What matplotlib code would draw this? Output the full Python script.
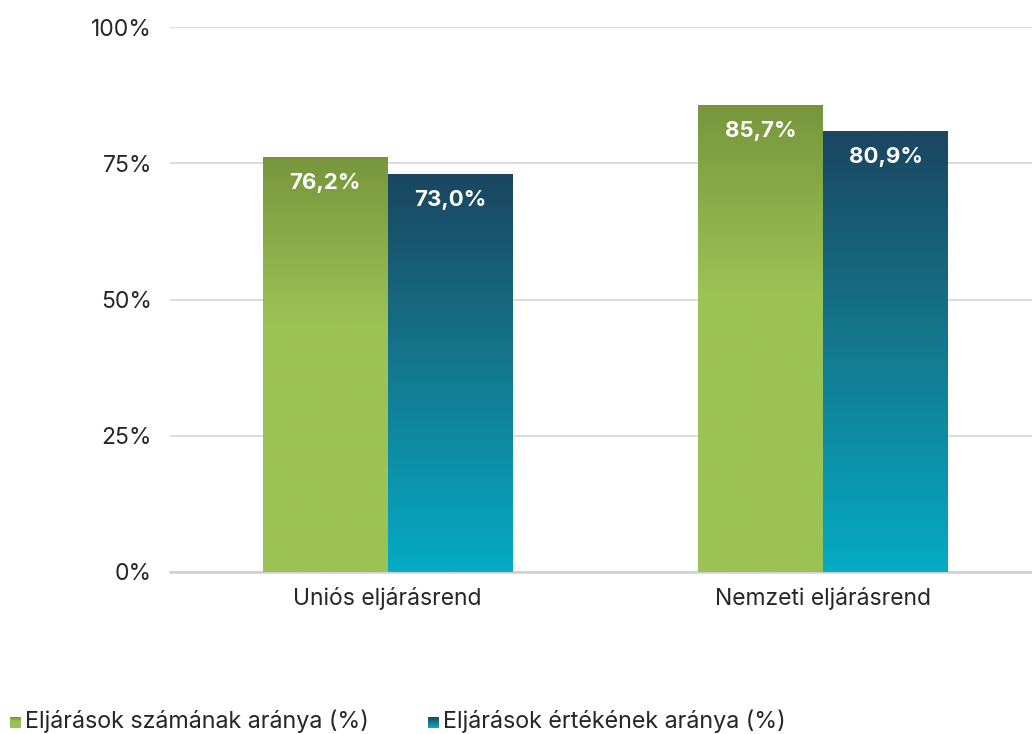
import numpy as np
import matplotlib
matplotlib.use("Agg")
import matplotlib.pyplot as plt
from matplotlib.colors import LinearSegmentedColormap

categories = ["Uniós eljárásrend", "Nemzeti eljárásrend"]
series_names = ["Eljárások számának aránya (%)", "Eljárások értékének aránya (%)"]
szam = [76.2, 85.7]
ertek = [73.0, 80.9]
yticks = [0, 25, 50, 75, 100]
ytick_labels = ["0%", "25%", "50%", "75%", "100%"]

plt.rcParams['font.family'] = ['Inter', 'DejaVu Sans']

green_cmap = LinearSegmentedColormap.from_list(
    "g", [(0.0, "#9bc255"), (0.6, "#9bc255"), (1.0, "#77963c")])
blue_cmap = LinearSegmentedColormap.from_list(
    "b", [(0.0, "#05abc5"), (0.5, "#137a90"), (1.0, "#1b4660")])

fig = plt.figure(figsize=(10.32, 7.34), dpi=100)
ax = fig.add_axes([170/1032, 1 - 572/734, 1 - 170/1032, (572 - 27)/734])

x = np.arange(len(categories))
w = 0.287

def grad_bars(xpos, vals, cmap):
    bars = ax.bar(xpos, vals, width=w, color="none", edgecolor="none", zorder=3)
    grad = np.linspace(0, 1, 256).reshape(-1, 1)
    for b in bars:
        x0, y0 = b.get_x(), b.get_y()
        ww, hh = b.get_width(), b.get_height()
        im = ax.imshow(grad, cmap=cmap, origin="lower", aspect="auto",
                       extent=(x0, x0 + ww, y0, y0 + hh), zorder=3)
        im.set_clip_path(b)
    return bars

b1 = grad_bars(x - w/2, szam, green_cmap)
b2 = grad_bars(x + w/2, ertek, blue_cmap)

for bars, vals in ((b1, szam), (b2, ertek)):
    for b, v in zip(bars, vals):
        ax.text(b.get_x() + b.get_width()/2, v - 4.8,
                f"{v:.1f}%".replace(".", ","), ha="center", va="center",
                color="white", fontsize=16, fontweight="bold", zorder=5)

ax.set_xlim(-0.5, 1.48)
ax.set_ylim(0, 100)
ax.set_yticks(yticks)
ax.set_yticklabels(ytick_labels, fontsize=16.5, color="#262626")
ax.set_xticks(x)
ax.set_xticklabels(categories, fontsize=16.5, color="#262626")
ax.tick_params(axis="both", length=0)
ax.tick_params(axis="y", pad=13)
ax.tick_params(axis="x", pad=11)
ax.yaxis.grid(True, color="#d9d9d9", linewidth=1.3, zorder=0)
ax.set_axisbelow(True)
for s in ["top", "right", "left"]:
    ax.spines[s].set_visible(False)
ax.spines["bottom"].set_color("#d0d0d0")
ax.spines["bottom"].set_linewidth(1.8)

# legend
grad = np.linspace(0, 1, 64).reshape(-1, 1)
legend_items = [(series_names[0], green_cmap, 10), (series_names[1], blue_cmap, 428)]
for name, cmap, px in legend_items:
    lax = fig.add_axes([px/1032, 1 - 728/734, 11/1032, 11/734])
    lax.imshow(grad, cmap=cmap, origin="lower", aspect="auto")
    lax.set_axis_off()
    fig.text((px + 15)/1032, 1 - 721/734, name, fontsize=16.8, color="#262626",
             va="center", ha="left")

fig.savefig("out.png", dpi=100)
